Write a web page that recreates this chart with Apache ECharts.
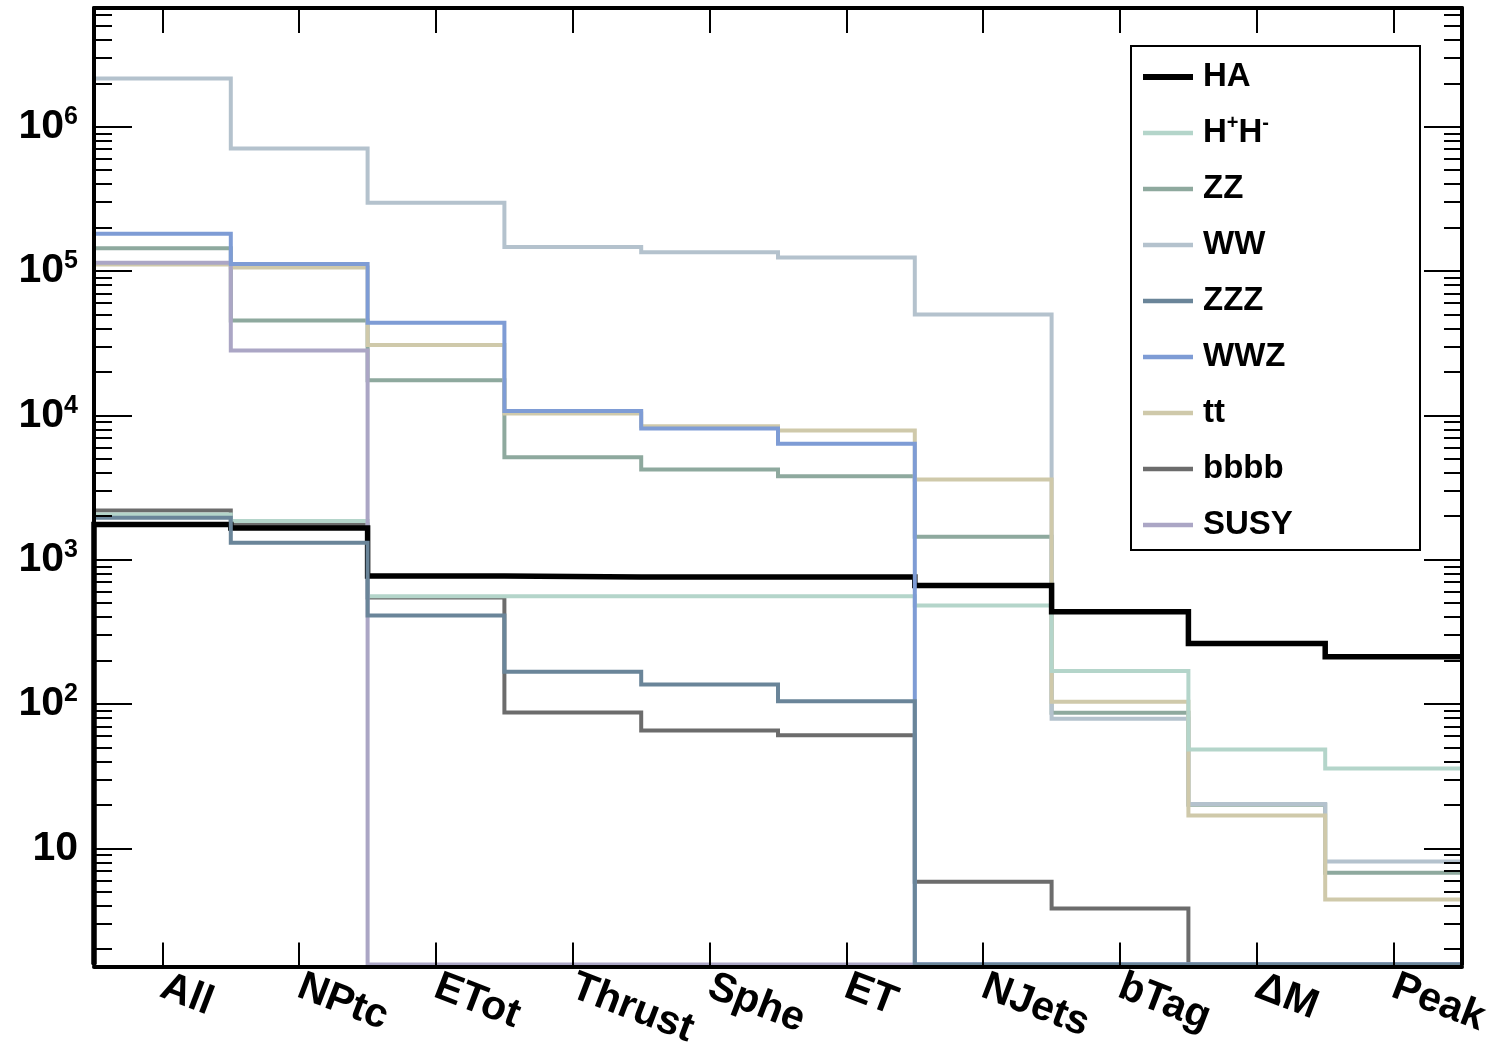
<!DOCTYPE html>
<html><head><meta charset="utf-8">
<script src="https://cdn.jsdelivr.net/npm/echarts@6/dist/echarts.min.js"></script>
<style>html,body{margin:0;padding:0;background:#fff}#c{width:1498px;height:1046px}</style>
</head><body><div id="c"></div>
<script>
// ---- data ----
const categories = ['All', 'NPtc', 'ETot', 'Thrust', 'Sphe', 'ET', 'NJets', 'bTag', '\u0394M', 'Peak'];
const legendOrder = ['HA', 'H+H-', 'ZZ', 'WW', 'ZZZ', 'WWZ', 'tt', 'bbbb', 'SUSY'];
const HA   = [1750, 1660, 769, 757, 757, 757, 662, 436, 262, 212];
const HpHm = [2055, 1850, 558, 558, 558, 558, 482, 169, 48.4, 35.7];
const ZZ   = [144000, 45500, 17500, 5130, 4220, 3790, 1442, 86.9, 20, 6.76];
const WW   = [2160000, 707000, 297000, 147000, 135000, 124000, 50000, 79, 20.3, 8.1];
const ZZZ  = [1950, 1310, 410, 167, 136.5, 104.5, 0, 0, 0, 0];
const WWZ  = [181000, 112000, 43900, 10700, 8100, 6350, 0, 0, 0, 0];
const tt   = [111000, 106000, 30700, 10300, 8410, 7850, 3600, 103.5, 16.9, 4.42];
const bbbb = [2190, 1750, 547, 87.3, 65.5, 60.8, 5.86, 3.83, 0, 0];
const SUSY = [114000, 28200, 0, 0, 0, 0, 0, 0, 0, 0];
const majorTicks = [10, 100, 1000, 10000, 100000, 1000000];
const minorMultipliers = [2, 3, 4, 5, 6, 7, 8, 9];
const decades = [1, 10, 100, 1000, 10000, 100000, 1000000];

// ---- styling ----
const yMin = 1.5653, yMax = 6.65e6;
const FONT = "'Liberation Sans', Arial, Helvetica, sans-serif";
const minorTicks = [];
decades.forEach(d => minorMultipliers.forEach(m => { const v = m * d; if (v > yMin && v < yMax) minorTicks.push(v); }));

// draw order (later = on top)
const drawList = [
  ['ZZ', ZZ, '#8ea99e', 4],
  ['WW', WW, '#b4c2cd', 4],
  ['tt', tt, '#cfc9aa', 4],
  ['bbbb', bbbb, '#6c6c6c', 4],
  ['H+H-', HpHm, '#b4d5ca', 4],
  ['SUSY', SUSY, '#aba6c5', 4],
  ['HA', HA, '#000000', 5.5],
  ['WWZ', WWZ, '#7e9cd5', 4],
  ['ZZZ', ZZZ, '#6a8599', 4]
];

function steps(vals) {
  const f = v => (v > 0 ? v : yMin);
  const pts = [[0, yMin]];
  vals.forEach((v, i) => pts.push([i, f(v)]));
  pts.push([vals.length, f(vals[vals.length - 1])]);
  return pts;
}

const supRich = {
  n: { fontSize: 41, fontWeight: 'bold', fontFamily: FONT, color: '#000', lineHeight: 44 },
  s: { fontSize: 25, fontWeight: 'bold', fontFamily: FONT, color: '#000', verticalAlign: 'top', lineHeight: 24 }
};
const legRich = {
  a: { fontSize: 33, fontWeight: 'bold', fontFamily: FONT, color: '#000', lineHeight: 40 },
  s: { fontSize: 20, fontWeight: 'bold', fontFamily: FONT, color: '#000', verticalAlign: 'top', lineHeight: 22 }
};

const frame = { show: true, lineStyle: { color: '#000', width: 4 } };
function logAxis(pos, ticks, len, main) {
  return {
    type: 'log', logBase: 10, min: yMin, max: yMax, position: pos, z: 5,
    axisLine: main ? frame : { show: false },
    splitLine: { show: false },
    minorTick: { show: false },
    axisTick: { show: true, inside: true, length: len, customValues: ticks, lineStyle: { color: '#000', width: 2 } },
    axisLabel: (main && pos === 'left') ? {
      show: true, customValues: majorTicks, margin: 16,
      formatter: v => { const e = Math.round(Math.log10(v)); return e === 1 ? '{n|10}' : '{n|10}{s|' + e + '}'; },
      rich: supRich
    } : { show: false }
  };
}

const colorOf = {};
drawList.forEach(d => { colorOf[d[0]] = d[2]; });

const chart = echarts.init(document.getElementById('c'), null, { renderer: 'canvas' });
chart.setOption({
  animation: false,
  backgroundColor: '#fff',
  grid: { left: 94, right: 36, top: 8, bottom: 81.5, containLabel: false, outerBoundsMode: 'none' },
  xAxis: [
    { type: 'value', min: 0, max: categories.length, show: false },
    {
      type: 'category', data: categories, position: 'bottom', boundaryGap: true, z: 5, offset: 2,
      axisLine: frame,
      axisTick: { show: true, inside: true, length: 24, alignWithLabel: true, lineStyle: { color: '#000', width: 2 } },
      axisLabel: { show: true, interval: 0, rotate: -21, margin: 19, fontSize: 41, fontWeight: 'bold', fontFamily: FONT, color: '#000' }
    },
    {
      type: 'category', data: categories, position: 'top', boundaryGap: true, z: 5,
      axisLine: frame,
      axisTick: { show: true, inside: true, length: 25, alignWithLabel: true, lineStyle: { color: '#000', width: 2 } },
      axisLabel: { show: false }
    }
  ],
  yAxis: [
    logAxis('left', majorTicks, 38, true),
    logAxis('left', minorTicks, 18, false),
    logAxis('right', majorTicks, 38, true),
    logAxis('right', minorTicks, 18, false)
  ],
  legend: {
    orient: 'vertical', left: 1140, top: 57, padding: 0,
    itemWidth: 50, itemHeight: 14, itemGap: 16,
    itemStyle: { opacity: 0 },
    data: legendOrder.map(n => ({
      name: n,
      itemStyle: { opacity: 0 },
      lineStyle: { color: colorOf[n], width: n === 'HA' ? 6 : 4.5, opacity: 1 }
    })),
    formatter: name => name === 'H+H-' ? '{a|H}{s|+}{a|H}{s|-}' : '{a|' + name + '}',
    textStyle: { fontSize: 33, fontWeight: 'bold', fontFamily: FONT, color: '#000', lineHeight: 40, padding: [0, 0, 0, 5], rich: legRich }
  },
  graphic: [{
    type: 'rect', left: 1130, top: 45, z: 0,
    shape: { width: 289, height: 504 },
    style: { fill: '#fff', stroke: '#000', lineWidth: 2 }
  }],
  series: drawList.map(([name, vals, color, w]) => ({
    name, type: 'line', xAxisIndex: 0, yAxisIndex: 0,
    step: 'end', symbol: 'none', clip: false,
    data: steps(vals),
    color: color,
    lineStyle: { color, width: w, join: 'miter', cap: 'butt' },
    emphasis: { disabled: true }
  }))
});
</script></body></html>
